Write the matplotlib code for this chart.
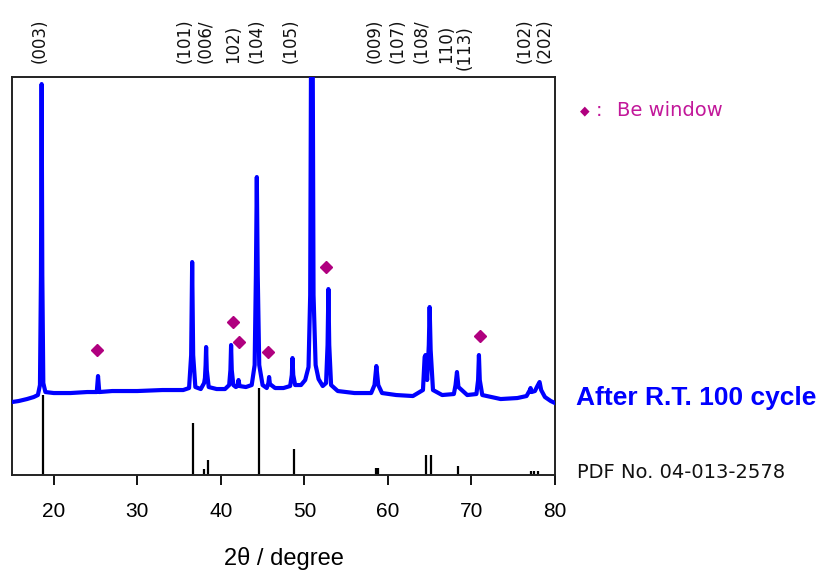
#----------------------------------------------------------------------
# import libraries
#----------------------------------------------------------------------

import matplotlib
matplotlib.use("Agg")
import matplotlib.pyplot as plt
import matplotlib.transforms as mtransforms

#----------------------------------------------------------------------
# data (intensity in arbitrary units)
#----------------------------------------------------------------------

# measured pattern: 2theta / intensity
two_theta = [15.0, 15.8, 16.8, 17.6, 18.1, 18.35, 18.47, 18.55, 18.63, 18.75,
             19.0, 20.0, 22.0, 24.0, 25.15, 25.3, 25.45, 27.0, 30.0, 33.0,
             35.5, 36.2, 36.45, 36.57, 36.69, 36.95, 37.6, 38.0, 38.1, 38.18,
             38.24, 38.32, 38.55, 39.5, 40.5, 41.0, 41.15, 41.23, 41.31, 41.5,
             41.8, 42.0, 42.12, 42.25, 43.0, 43.7, 44.05, 44.2, 44.31, 44.42,
             44.6, 45.0, 45.5, 45.7, 45.78, 45.88, 46.5, 47.5, 48.3, 48.5,
             48.58, 48.67, 48.9, 49.6, 50.1, 50.5, 50.7, 50.8, 51.0, 51.1,
             51.35, 51.7, 52.2, 52.6, 52.78, 52.88, 52.98, 53.2, 54.0, 56.0,
             58.0, 58.4, 58.62, 58.85, 59.3, 61.0, 63.0, 64.2, 64.4, 64.5,
             64.7, 64.9, 65.0, 65.12, 65.4, 66.5, 67.9, 68.1, 68.27, 68.45,
             69.5, 70.6, 70.8, 70.9, 71.0, 71.3, 73.5, 75.5, 76.6, 77.0,
             77.08, 77.2, 77.6, 77.9, 78.16, 78.35, 78.8, 79.5, 80.0]
intensity = [73, 74, 76, 78, 80, 90, 200, 391, 200, 92,
             83, 82, 82, 83, 83, 99, 83, 84, 84, 85,
             85, 87, 120, 213, 120, 88, 86, 92, 97, 110,
             128, 105, 88, 86, 86, 90, 105, 130, 105, 90,
             88, 89, 95, 89, 88, 90, 110, 200, 298, 200,
             110, 90, 87, 92, 98, 91, 87, 87, 89, 100,
             117, 100, 90, 90, 95, 108, 180, 420, 420, 180,
             110, 96, 89, 92, 130, 186, 130, 90, 84, 82,
             82, 90, 109, 90, 82, 80, 79, 85, 118, 120,
             95, 130, 168, 125, 85, 80, 81, 90, 103, 88,
             80, 81, 95, 120, 95, 80, 76, 77, 79, 85,
             87, 83, 84, 89, 93, 85, 78, 74, 72]

# reference card PDF No. 04-013-2578
ref_theta = [18.67, 36.69, 38.0, 38.44, 44.55, 48.73, 58.6, 58.8, 64.52, 65.15,
             68.43, 77.15, 77.5, 78.0]
ref_height = [80, 52, 6, 15, 87, 26, 7, 7, 20, 20,
              9, 4, 4, 4]

# Be window reflections
be_theta = [25.13, 41.4, 42.19, 45.62, 52.6, 70.98]
be_height = [125, 153, 133, 123, 208, 139]

# Miller index labels along the top
hkl_labels = ["(003)", "(101)", "(006/", "102)", "(104)", "(105)", "(009)",
              "(107)", "(108/", "110)", "(113)", "(102)", "(202)"]
hkl_theta = [18.35, 35.69, 38.2, 41.43, 44.31, 48.37, 58.42,
             61.2, 64.0, 67.0, 69.19, 76.36, 78.75]

#----------------------------------------------------------------------
# plotting
#----------------------------------------------------------------------

magenta = "#B0007F"

fig = plt.figure(figsize=(8.32, 5.82), dpi=100)
ax = fig.add_axes([0.0144, 0.1838, 0.6526, 0.6838])

ax.vlines(ref_theta, 0, ref_height, color="black", lw=1.6, zorder=2)
ax.plot(two_theta, intensity, color="#0000FF", lw=3, zorder=3, solid_joinstyle="round")
ax.plot(be_theta, be_height, ls="none", marker="D", ms=6, color=magenta, zorder=4)

ax.set_xlim(15, 80)
ax.set_ylim(0, 398)
ax.set_xticks([20, 30, 40, 50, 60, 70, 80])
ax.set_yticks([])
ax.tick_params(axis="x", direction="out", length=7.5, width=1.3, pad=12,
               labelsize=15)
for lab in ax.get_xticklabels():
    lab.set_fontfamily("Liberation Sans")
for sp in ax.spines.values():
    sp.set_linewidth(1.4)
    sp.set_color("#222222")

ax.set_xlabel("2\u03b8 / degree", fontsize=17, family="Liberation Sans")
ax.xaxis.set_label_coords(0.5, -0.18)

# hkl labels above the frame
trans = mtransforms.blended_transform_factory(ax.transData, ax.transAxes)
for lab, t in zip(hkl_labels, hkl_theta):
    y = 1.018 if lab == "(113)" else 1.035
    ax.text(t, y, lab, transform=trans, rotation=90, ha="center", va="bottom",
            fontsize=12, family="DejaVu Sans", color="#111111")

# side annotations
fig.text(585 / 832, 1 - 110.7 / 582, "\u25c6", color=magenta, fontsize=9,
         ha="center", va="center", family="DejaVu Sans")
fig.text(599 / 832, 1 - 110 / 582, ":", color="#C2189A", fontsize=14,
         ha="center", va="center", family="DejaVu Sans")
fig.text(617 / 832, 1 - 110 / 582, "Be window", color="#C2189A", fontsize=14,
         ha="left", va="center", family="DejaVu Sans")
fig.text(576 / 832, 1 - 398 / 582, "After R.T. 100 cycle", color="#0000FF",
         fontsize=19, fontweight="bold", ha="left", va="center",
         family="Liberation Sans")
fig.text(577 / 832, 1 - 472 / 582, "PDF No. 04-013-2578", color="#111111",
         fontsize=14, ha="left", va="center", family="DejaVu Sans")

fig.savefig("out.png", dpi=100)
